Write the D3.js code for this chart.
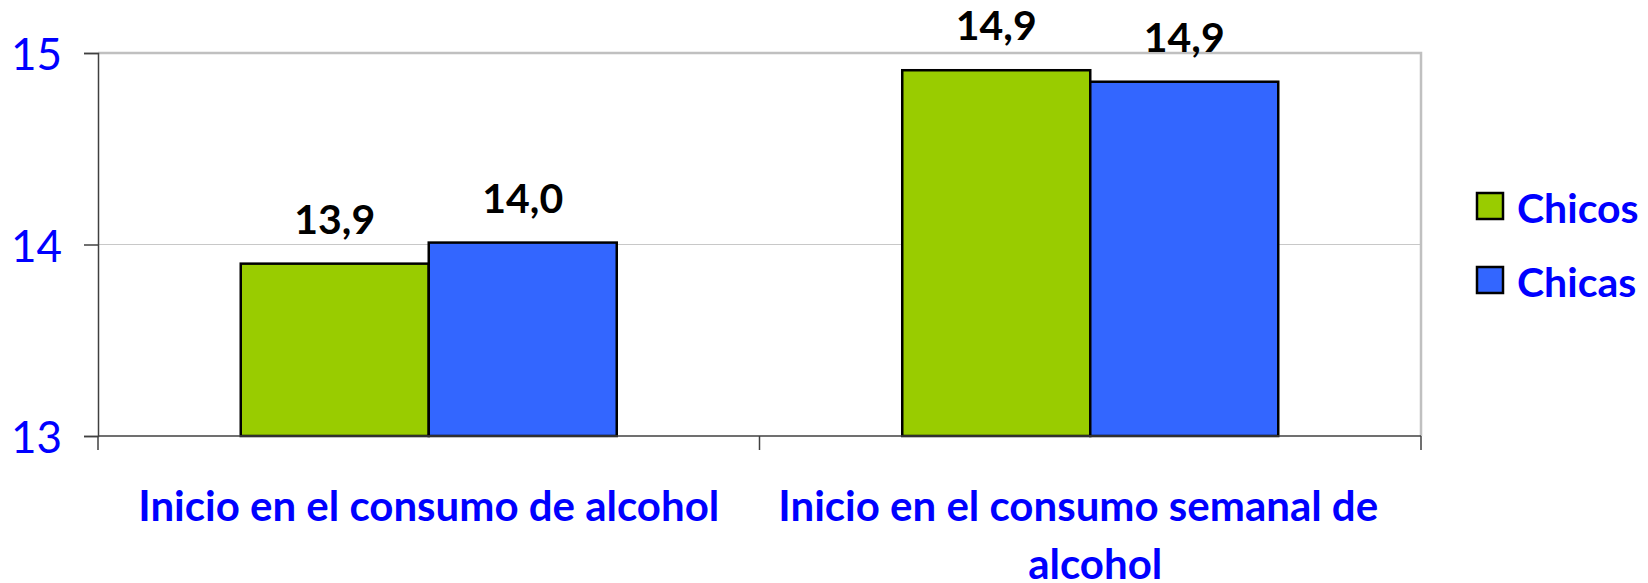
<!DOCTYPE html>
<html>
<head>
<meta charset="utf-8">
<script src="https://cdn.jsdelivr.net/npm/d3@7"></script>
<style>
  html, body { margin: 0; padding: 0; background: #fff; }
  svg { display: block; }
</style>
</head>
<body>
<svg id="chart" width="1648" height="583"></svg>
<script>
const categories = [
  ["Inicio en el consumo de alcohol"],
  ["Inicio en el consumo semanal de", "alcohol"]
];
const seriesNames = ["Chicos", "Chicas"];
const seriesColors = ["#99CC00", "#3366FF"];
const chicos = [13.9, 14.91];
const chicas = [14.01, 14.85];
const valueLabels = [["13,9", "14,0"], ["14,9", "14,9"]];
const yTicks = [13, 14, 15];

(function () {
const seriesValues = [chicos, chicas];

const svg = d3.select("#chart");
const font = "Lato, 'Open Sans', sans-serif";
const pLeft = 98, pRight = 1421, pTop = 53, pBottom = 436;

const x0 = d3.scaleBand().domain(d3.range(categories.length)).range([pLeft, pRight])
  .paddingInner(0.4316).paddingOuter(0.2158);
const x1 = d3.scaleBand().domain(d3.range(seriesNames.length)).range([0, x0.bandwidth()]);
const y = d3.scaleLinear().domain([13, 15]).range([pBottom, pTop]);

// gridline at 14
svg.append("g").selectAll("line").data(yTicks.filter(t => t !== 13 && t !== 15)).join("line")
  .attr("x1", pLeft).attr("x2", pRight).attr("y1", d => y(d)).attr("y2", d => y(d))
  .attr("stroke", "#c8c8c8").attr("stroke-width", 1);

// plot border top & right
svg.append("path")
  .attr("d", `M${pLeft},${y(15)}H${pRight}V${pBottom}`)
  .attr("fill", "none").attr("stroke", "#c0c0c0").attr("stroke-width", 2.5);

// bars
const groups = svg.append("g").selectAll("g").data(categories).join("g")
  .attr("transform", (d, i) => `translate(${x0(i)},0)`);
groups.each(function(cat, ci) {
  const g = d3.select(this);
  seriesNames.forEach((s, si) => {
    const v = seriesValues[si][ci];
    g.append("rect")
      .attr("x", x1(si)).attr("width", x1.bandwidth())
      .attr("y", y(v)).attr("height", y(13) - y(v))
      .attr("fill", seriesColors[si]).attr("stroke", "#000").attr("stroke-width", 2.5);
  });
  seriesNames.forEach((s, si) => {
    const v = seriesValues[si][ci];
    g.append("text")
      .attr("x", x1(si) + x1.bandwidth() / 2).attr("y", y(v) - 30)
      .attr("text-anchor", "middle")
      .attr("font-family", font).attr("font-weight", "bold").attr("font-size", 41)
      .attr("fill", "#000").text(valueLabels[ci][si]);
  });
});

// y axis
const yAxis = svg.append("g").attr("transform", `translate(${pLeft},0)`)
  .call(d3.axisLeft(y).tickValues(yTicks).tickSize(14).tickPadding(22).tickFormat(d3.format("d")));
yAxis.select(".domain").attr("stroke", "#404040").attr("stroke-width", 1.5);
yAxis.selectAll(".tick line").attr("stroke", "#404040").attr("stroke-width", 1.5);
yAxis.selectAll(".tick text")
  .attr("font-family", font).attr("font-size", 44).attr("fill", "#0000FF").attr("dy", "0.38em");

// x axis line & ticks
svg.append("line").attr("x1", pLeft).attr("x2", pRight).attr("y1", pBottom).attr("y2", pBottom)
  .attr("stroke", "#404040").attr("stroke-width", 1.5);
const boundaries = [pLeft].concat(d3.range(categories.length).map(i => x0(i) + x0.bandwidth() + x0.step() * x0.paddingInner() / 2));
boundaries[boundaries.length - 1] = pRight;
svg.append("g").selectAll("line").data(boundaries).join("line")
  .attr("x1", d => d).attr("x2", d => d).attr("y1", pBottom).attr("y2", pBottom + 14)
  .attr("stroke", "#404040").attr("stroke-width", 1.5);

// category labels
const lineShift = [[0], [-12, 5]];
categories.forEach((lines, ci) => {
  const t = svg.append("text")
    .attr("text-anchor", "middle")
    .attr("font-family", font).attr("font-weight", "bold").attr("font-size", 42)
    .attr("fill", "#0000FF");
  lines.forEach((ln, li) => {
    t.append("tspan").attr("x", x0(ci) + x0.bandwidth() / 2 + lineShift[ci][li])
      .attr("y", 521 + li * 58).text(ln);
  });
});

// legend
const legend = svg.append("g").attr("transform", "translate(1477,193)");
seriesNames.forEach((s, i) => {
  const g = legend.append("g").attr("transform", `translate(0,${i * 74})`);
  g.append("rect").attr("width", 26).attr("height", 26)
    .attr("fill", seriesColors[i]).attr("stroke", "#000").attr("stroke-width", 2.5);
  g.append("text").attr("x", 40).attr("y", 30)
    .attr("font-family", font).attr("font-weight", "bold").attr("font-size", 41)
    .attr("fill", "#0000FF").text(s);
});
})();
</script>
</body>
</html>
